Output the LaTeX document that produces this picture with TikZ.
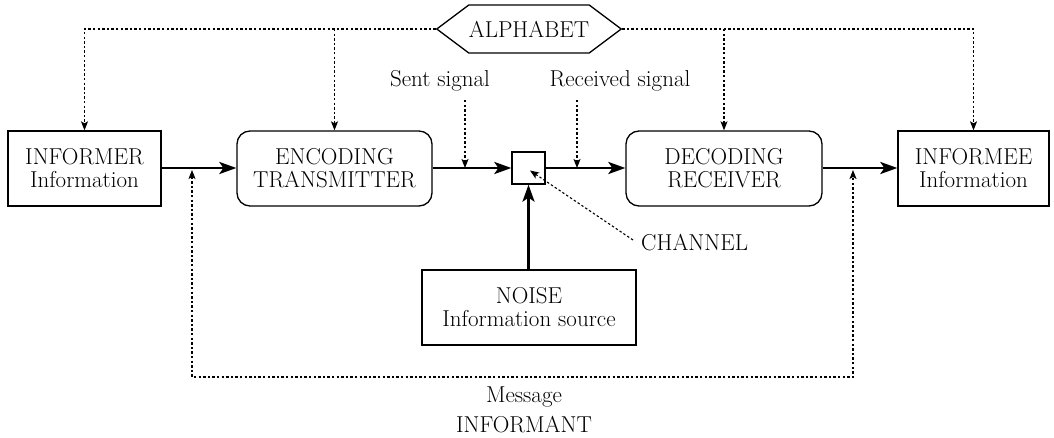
\documentclass[tikz,border=0pt]{standalone}
\usepackage{fontspec}
\usetikzlibrary{arrows.meta,shapes.symbols,calc}
\begin{document}
\begin{tikzpicture}[x=1pt,y=-1pt,
  every node/.style={font=\fontsize{23}{23}\selectfont, inner sep=0pt, align=center},
  blk/.style={draw, line width=1.3pt, minimum height=75pt},
  rblk/.style={blk, rounded corners=13pt},
  mainarrow/.style={line width=2.6pt, -{Stealth[length=17pt,width=12pt,inset=4pt]}},
  dotline/.style={line width=1.1pt, dash pattern=on 2.4pt off 2.2pt},
  dotarrow/.style={dotline, -{Stealth[length=9pt,width=7pt,inset=2pt]}},
  dotboth/.style={dotline, {Stealth[length=9pt,width=7pt,inset=2pt]}-{Stealth[length=9pt,width=7pt,inset=2pt]}}
]
\useasboundingbox (0,0) rectangle (1054,438);
% nodes
\node[blk, minimum width=153pt] (informer) at (84.5,168.5) {INFORMER\\Information};
\node[rblk, minimum width=195pt] (enc) at (334.5,168.5) {ENCODING\\TRANSMITTER};
\node[draw, line width=1.3pt, minimum width=33pt, minimum height=32pt] (chan) at (528.5,168) {};
\node[rblk, minimum width=196pt] (dec) at (724,168.5) {DECODING\\RECEIVER};
\node[blk, minimum width=151pt] (informee) at (973.5,168.5) {INFORMEE\\Information};
\node[blk, minimum width=214pt] (noise) at (529,307.5) {NOISE\\Information source};
\node[draw, line width=1.3pt, shape=signal, signal to=west and east, signal pointer angle=73.7,
      minimum width=182pt, minimum height=48pt] (alpha) at (529,29) {ALPHABET};
\node (sent) at (440,81) {Sent signal};
\node (recv) at (620,81) {Received signal};
\node[anchor=west] (chlab) at (641,243) {CHANNEL};
\node (msg) at (524,397) {Message};
\node (informant) at (524,425) {INFORMANT};
% coordinates
\coordinate (s1) at (465,100);
\coordinate (r1) at (577,100);
\coordinate (fbL) at (192,170);
\coordinate (fbR) at (853,170);
\coordinate (fbLb) at (192,377);
\coordinate (fbRb) at (853,377);
\coordinate (chtip) at (530,170.5);
% main flow
\draw[mainarrow] (informer.east |- 0,168) -- (enc.west |- 0,168);
\draw[mainarrow] (enc.east |- 0,168) -- (chan.west);
\draw[mainarrow] (chan.east) -- (dec.west |- 0,168);
\draw[mainarrow] (dec.east |- 0,168) -- (informee.west |- 0,168);
\draw[mainarrow] (noise.north -| chan.south) -- (chan.south);
% alphabet
\draw[dotarrow] (alpha.west) -| (informer.north);
\draw[dotarrow] (enc.north |- alpha.west) -- (enc.north);
\draw[dotarrow] (alpha.east) -| (informee.north);
\draw[dotarrow] (dec.north |- alpha.east) -- (dec.north);
% signals
\draw[dotarrow] (s1) -- (s1 |- chan.west);
\draw[dotarrow] (r1) -- (r1 |- chan.east);
\draw[dotarrow] ($(chlab.west)+(-8,-3)$) -- (chtip);
% feedback
\draw[dotboth] (fbL) -- (fbLb) -- (fbRb) -- (fbR);
\end{tikzpicture}
\end{document}
